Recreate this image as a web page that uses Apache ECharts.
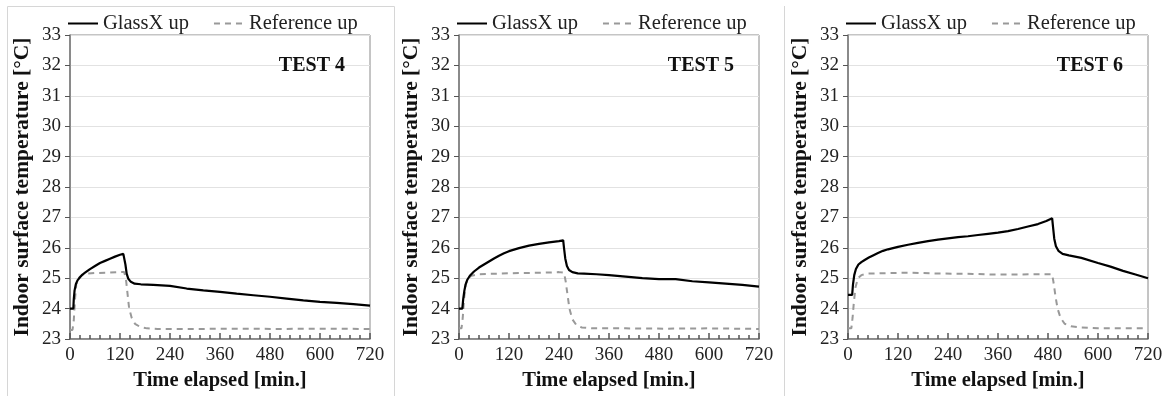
<!DOCTYPE html>
<html>
<head>
<meta charset="utf-8">
<script src="https://cdn.jsdelivr.net/npm/echarts@6/dist/echarts.min.js"></script>
<style>
  html, body { margin: 0; padding: 0; background: #fff; }
  #chart { width: 1169px; height: 396px; }
</style>
</head>
<body>
<div id="chart"></div>
<script>
const testNames = ['TEST 4', 'TEST 5', 'TEST 6']
const seriesNames = ['GlassX up', 'Reference up']
const yTicks = [23, 24, 25, 26, 27, 28, 29, 30, 31, 32, 33]
const xTicks = [0, 120, 240, 360, 480, 600, 720]

// [minutes, °C]
const test4GlassX = [
  [0, 24.0], [8, 24.0], [9, 24.3], [11, 24.6], [14, 24.8], [18, 24.93], [24, 25.03],
  [30, 25.12], [36, 25.18], [48, 25.3], [60, 25.4], [72, 25.5], [84, 25.57], [96, 25.64],
  [108, 25.71], [120, 25.77], [128, 25.8], [131, 25.82], [133, 25.45], [136, 25.15],
  [140, 24.98], [146, 24.88], [155, 24.82], [170, 24.8], [200, 24.78], [240, 24.75],
  [280, 24.66], [320, 24.6], [360, 24.55], [400, 24.49], [440, 24.44], [480, 24.39],
  [520, 24.33], [560, 24.27], [600, 24.22], [640, 24.19], [680, 24.15], [720, 24.1]
]
const test4Reference = [
  [0, 23.3], [6, 23.3], [9, 23.6], [12, 24.3], [15, 24.8], [20, 25.0], [28, 25.1],
  [40, 25.15], [60, 25.17], [90, 25.18], [120, 25.2], [130, 25.2], [134, 25.0],
  [138, 24.5], [142, 24.0], [148, 23.7], [156, 23.5], [168, 23.4], [185, 23.35],
  [210, 23.33], [300, 23.33], [400, 23.34], [500, 23.33], [600, 23.34], [720, 23.33]
]
const test5GlassX = [
  [0, 24.0], [8, 24.0], [10, 24.3], [13, 24.6], [16, 24.8], [20, 24.95], [26, 25.08],
  [36, 25.22], [48, 25.35], [60, 25.45], [72, 25.55], [84, 25.65], [96, 25.74],
  [108, 25.82], [120, 25.89], [144, 25.99], [168, 26.07], [192, 26.13], [216, 26.18],
  [240, 26.22], [250, 26.25], [252, 26.0], [255, 25.65], [259, 25.4], [264, 25.27],
  [272, 25.2], [285, 25.16], [300, 25.15], [330, 25.13], [360, 25.1], [400, 25.05],
  [440, 25.0], [480, 24.97], [520, 24.97], [560, 24.9], [600, 24.86], [640, 24.82],
  [680, 24.78], [720, 24.72]
]
const test5Reference = [
  [0, 23.35], [6, 23.35], [9, 23.7], [12, 24.3], [16, 24.8], [22, 25.0], [30, 25.08],
  [45, 25.13], [90, 25.15], [150, 25.17], [200, 25.18], [240, 25.2], [252, 25.18],
  [256, 24.9], [260, 24.5], [265, 24.0], [272, 23.65], [282, 23.45], [295, 23.38],
  [320, 23.35], [400, 23.35], [500, 23.34], [600, 23.35], [720, 23.33]
]
const test6GlassX = [
  [0, 24.45], [10, 24.45], [12, 24.8], [15, 25.1], [19, 25.3], [25, 25.45], [32, 25.53],
  [40, 25.6], [50, 25.68], [60, 25.75], [72, 25.83], [84, 25.9], [96, 25.95],
  [120, 26.03], [144, 26.1], [168, 26.16], [192, 26.22], [216, 26.27], [240, 26.31],
  [264, 26.35], [288, 26.38], [312, 26.42], [336, 26.46], [360, 26.5], [384, 26.55],
  [408, 26.62], [432, 26.7], [456, 26.78], [476, 26.88], [490, 26.97], [492, 26.7],
  [495, 26.3], [499, 26.05], [505, 25.9], [515, 25.8], [530, 25.75], [560, 25.67],
  [600, 25.5], [630, 25.38], [660, 25.24], [690, 25.12], [720, 25.0]
]
const test6Reference = [
  [0, 23.35], [8, 23.35], [11, 23.7], [14, 24.2], [18, 24.7], [24, 25.0], [32, 25.1],
  [45, 25.15], [100, 25.17], [150, 25.18], [200, 25.16], [250, 25.15], [300, 25.14],
  [350, 25.12], [400, 25.12], [450, 25.13], [490, 25.13], [494, 24.8], [498, 24.4],
  [503, 24.0], [510, 23.7], [520, 23.5], [535, 23.42], [560, 23.38], [600, 23.35],
  [650, 23.35], [710, 23.35]
]

const glassXData = [test4GlassX, test5GlassX, test6GlassX]
const referenceData = [test4Reference, test5Reference, test6Reference]

const font = 'Liberation Serif, Times New Roman, serif'
const plotLefts = [70, 459, 848]
const plotTop = 35
const plotWidth = 300
const plotHeight = 305

const chart = echarts.init(document.getElementById('chart'))

const grids = []
const xAxes = []
const yAxes = []
const series = []
const legends = []
const titles = []

plotLefts.forEach((left, i) => {
  grids.push({
    left: left,
    top: plotTop,
    width: plotWidth,
    height: plotHeight,
    show: true,
    borderColor: '#8a8a8a',
    borderWidth: 1
  })
  xAxes.push({
    type: 'value',
    gridIndex: i,
    min: 0,
    max: 720,
    interval: 120,
    name: 'Time elapsed [min.]',
    nameLocation: 'middle',
    nameGap: 31,
    nameTextStyle: { fontFamily: font, fontWeight: 'bold', fontSize: 20.5, color: '#111' },
    axisLine: { lineStyle: { color: '#777', width: 1.5 } },
    axisTick: { inside: true, length: 6, lineStyle: { color: '#555', width: 1.5 } },
    minorTick: { show: true, splitNumber: 5, length: 4, lineStyle: { color: '#555', width: 1.5 } },
    splitLine: { show: false },
    axisLabel: {
      margin: 7,
      fontFamily: font,
      fontSize: 19,
      color: '#222',
      formatter: (v) => (xTicks.includes(v) ? String(v) : '')
    }
  })
  yAxes.push({
    type: 'value',
    gridIndex: i,
    min: 23,
    max: 33,
    interval: 1,
    name: 'Indoor surface temperature [°C]',
    nameLocation: 'middle',
    nameGap: 37,
    nameTextStyle: { fontFamily: font, fontWeight: 'bold', fontSize: 21.5, color: '#111' },
    axisLine: { show: true, lineStyle: { color: '#777', width: 1.5 } },
    axisTick: { show: true, length: 5, lineStyle: { color: '#555' } },
    splitLine: { lineStyle: { color: '#e2e2e2', width: 1.2 } },
    axisLabel: {
      margin: 9,
      fontFamily: font,
      fontSize: 19,
      color: '#222',
      formatter: (v) => (yTicks.includes(v) ? String(v) : '')
    }
  })
  series.push({
    name: seriesNames[0],
    type: 'line',
    xAxisIndex: i,
    yAxisIndex: i,
    data: glassXData[i],
    showSymbol: false,
    symbol: 'none',
    lineStyle: { color: '#000', width: 2.2 },
    itemStyle: { color: '#000' },
    z: 3
  })
  series.push({
    name: seriesNames[1],
    type: 'line',
    xAxisIndex: i,
    yAxisIndex: i,
    data: referenceData[i],
    showSymbol: false,
    symbol: 'none',
    lineStyle: { color: '#999', width: 2, type: [6, 5] },
    itemStyle: { color: '#999' },
    z: 2
  })
  legends.push({
    left: left - 8,
    top: 8,
    data: seriesNames,
    itemWidth: 30,
    itemHeight: 14,
    itemGap: 24,
    selectedMode: false,
    itemStyle: { opacity: 0 },
    textStyle: { fontFamily: font, fontSize: 20.5, color: '#222' }
  })
  titles.push({
    text: testNames[i],
    right: 1169 - (left + plotWidth - 20),
    top: 51,
    textStyle: { fontFamily: font, fontWeight: 'bold', fontSize: 20, color: '#111' }
  })
})

chart.setOption({
  animation: false,
  title: titles,
  legend: legends,
  grid: grids,
  xAxis: xAxes,
  yAxis: yAxes,
  series: series,
  graphic: [
    { type: 'rect', shape: { x: 7.5, y: 6.5, width: 387, height: 400 }, style: { fill: 'none', stroke: '#d6d6d6', lineWidth: 1 }, silent: true },
    { type: 'line', shape: { x1: 784.5, y1: 6, x2: 784.5, y2: 396 }, style: { stroke: '#d6d6d6', lineWidth: 1 }, silent: true }
  ]
})
</script>
</body>
</html>
